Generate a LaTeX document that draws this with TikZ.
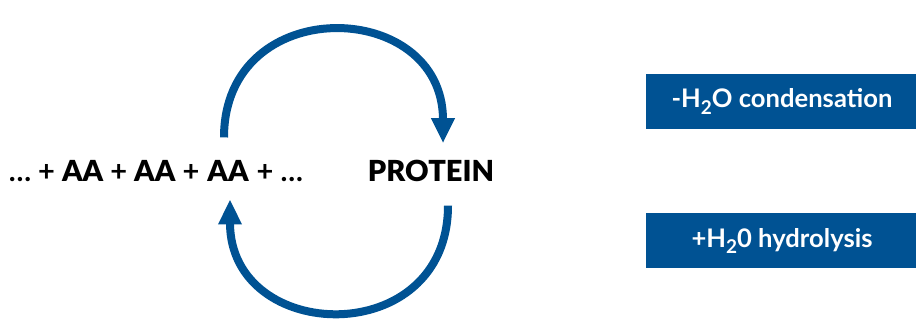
\documentclass[tikz,border=0pt]{standalone}
\usepackage{fontspec}
\setmainfont{Lato}[BoldFont={Lato Black}]
\newfontface\labelfont{Lato Bold}
\newfontface\heavyfont{Lato Black}
\definecolor{chemblue}{RGB}{0,82,147}
\usetikzlibrary{arrows.meta,positioning}
\newcommand{\subtwo}{\raisebox{-0.5ex}{\fontsize{9.5}{9.5}\selectfont 2}}

\begin{document}
\begin{tikzpicture}[x=0.5pt,y=0.5pt,
  term/.style={inner sep=0pt, font=\fontsize{14.5}{17}\selectfont\heavyfont},
  chain/.style={inner sep=0pt, font=\fontsize{14.5}{17}\selectfont\labelfont},
  flow/.style={line width=4pt, chemblue, -{Triangle[length=12.5pt,width=11pt]}},
  tag/.style={fill=chemblue, text=white, minimum width=136.5pt, minimum height=27.5pt, inner sep=0pt, font=\fontsize{12.8}{15}\selectfont\labelfont}]
  \useasboundingbox (0,0) rectangle (916,324);

  %% Amino acid chain
  \node[term, anchor=base] (aa3) at (228,142) {AA};
  \node[chain, anchor=base east] (lhs) at (aa3.base west) {… + {\heavyfont AA} + {\heavyfont AA} +\kern.25em};
  \node[chain, anchor=base west] (rhs) at (aa3.base east) {\kern.25em+ …};

  %% Product
  \node[term, anchor=base] (protein) at (431,142) {PROTEIN};

  %% Condensation (top) and hydrolysis (bottom)
  \draw[flow] ([xshift=-2pt,yshift=11.5pt]aa3.north) to[out=90, in=90, looseness=1.7] ([xshift=6pt,yshift=8.5pt]protein.north);
  \draw[flow] ([xshift=8.5pt,yshift=-11.5pt]protein.south) to[out=-90, in=-90, looseness=1.7] ([xshift=1pt,yshift=-8.5pt]aa3.south);

  %% Labels
  \node[tag] (cond) at (782,222.5) {-H\subtwo O condensation};
  \node[tag] (hydro) at (782,83) {+H\subtwo 0 hydrolysis};
\end{tikzpicture}
\end{document}
